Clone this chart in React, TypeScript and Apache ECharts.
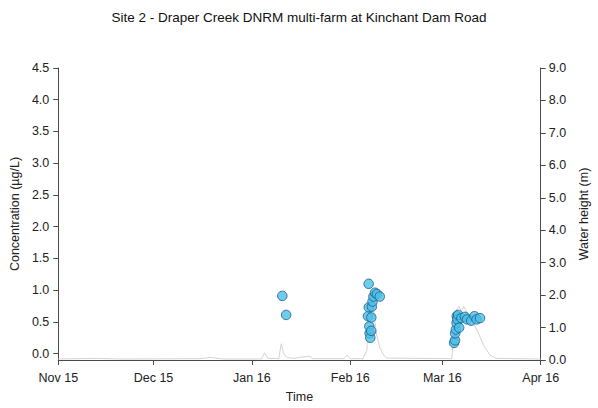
import React, { useEffect, useRef } from "react";
import * as echarts from "echarts";

const TITLE = "Site 2 - Draper Creek DNRM multi-farm at Kinchant Dam Road";

// Concentration samples (µg/L)
const sampleTimes = [
  "2016-01-10 14:00", "2016-01-11 19:00",
  "2016-02-06 14:00", "2016-02-06 19:00", "2016-02-06 20:00", "2016-02-07 00:00",
  "2016-02-07 02:00", "2016-02-07 07:00", "2016-02-07 14:00", "2016-02-07 15:00",
  "2016-02-07 19:00", "2016-02-08 00:00", "2016-02-08 07:00", "2016-02-08 19:00",
  "2016-02-09 09:00", "2016-02-10 07:00",
  "2016-03-04 17:00", "2016-03-05 00:00", "2016-03-05 01:00", "2016-03-05 07:00",
  "2016-03-05 12:00", "2016-03-05 13:00", "2016-03-05 17:00", "2016-03-06 00:00",
  "2016-03-06 07:00", "2016-03-07 00:00", "2016-03-08 02:00", "2016-03-08 19:00",
  "2016-03-10 02:00", "2016-03-11 03:00", "2016-03-11 19:00", "2016-03-12 21:00",
];
const concentration = [
  0.91, 0.61,
  0.59, 1.10, 0.73, 0.43,
  0.32, 0.25, 0.36, 0.57,
  0.74, 0.82, 0.90, 0.96,
  0.94, 0.90,
  0.17, 0.21, 0.32, 0.38,
  0.48, 0.59, 0.54, 0.61,
  0.41, 0.56, 0.58, 0.54,
  0.52, 0.59, 0.54, 0.56,
];

// Water height (m)
const waterTimes = [
  "2015-11-01 00:00", "2015-11-13 00:00", "2015-11-21 00:00", "2015-12-16 00:00",
  "2015-12-19 00:00", "2015-12-23 00:00", "2016-01-04 00:00", "2016-01-05 00:00",
  "2016-01-06 00:00", "2016-01-09 12:00", "2016-01-10 06:00", "2016-01-11 00:00",
  "2016-01-12 00:00", "2016-01-14 00:00", "2016-01-19 00:00", "2016-01-20 00:00",
  "2016-01-30 00:00", "2016-01-31 00:00", "2016-02-01 00:00", "2016-02-05 00:00",
  "2016-02-06 06:00", "2016-02-06 18:00", "2016-02-07 12:00", "2016-02-08 06:00",
  "2016-02-09 06:00", "2016-02-10 06:00", "2016-02-11 12:00", "2016-02-12 12:00",
  "2016-03-04 00:00", "2016-03-04 12:00", "2016-03-05 00:00", "2016-03-06 06:00",
  "2016-03-07 00:00", "2016-03-07 18:00", "2016-03-09 06:00", "2016-03-11 00:00",
  "2016-03-12 12:00", "2016-03-14 00:00", "2016-03-16 00:00", "2016-03-18 00:00",
  "2016-04-01 00:00",
];
const waterHeight = [
  0.03, 0.05, 0.03, 0.04,
  0.08, 0.03, 0.03, 0.22,
  0.05, 0.05, 0.50, 0.20,
  0.08, 0.05, 0.12, 0.04,
  0.04, 0.15, 0.04, 0.04,
  0.30, 1.60, 2.00, 1.60,
  0.80, 0.40, 0.15, 0.06,
  0.04, 0.80, 1.50, 1.65,
  1.50, 1.65, 1.40, 1.10,
  0.80, 0.45, 0.15, 0.05,
  0.03,
];

const monthTicks = ["2015-11-01", "2015-12-01", "2016-01-01", "2016-02-01", "2016-03-01", "2016-04-01"];
const monthLabels = ["Nov 15", "Dec 15", "Jan 16", "Feb 16", "Mar 16", "Apr 16"];
const concTicks = [0, 0.5, 1.0, 1.5, 2.0, 2.5, 3.0, 3.5, 4.0, 4.5];

const ts = (s: string) => {
  const [d, t] = s.split(" ");
  const [y, m, day] = d.split("-").map(Number);
  const [hh, mm] = (t || "00:00").split(":").map(Number);
  return Date.UTC(y, m - 1, day, hh, mm);
};

export default function App() {
  const ref = useRef<HTMLDivElement>(null);
  useEffect(() => {
    if (!ref.current) return;
    const chart = echarts.init(ref.current, undefined, { renderer: "svg" });
    const tickVals = monthTicks.map(ts);
    const axisColor = "#4a4a4a";
    const textColor = "#222";
    const font = "'Liberation Sans', Arial, sans-serif";
    const tickFont = 12.5;
    const nameFont = 12.5;
    chart.setOption({
      animation: false,
      backgroundColor: "#ffffff",
      textStyle: { fontFamily: font },
      title: {
        text: TITLE,
        left: "center",
        top: 5,
        textStyle: { fontSize: 13.5, fontWeight: "normal", color: "#111", fontFamily: font },
      },
      grid: { left: 56, right: 46, top: 68, bottom: 48 },
      xAxis: {
        type: "value",
        min: tickVals[0],
        max: tickVals[tickVals.length - 1],
        name: "Time",
        nameLocation: "middle",
        nameGap: 30,
        nameTextStyle: { fontSize: nameFont, color: textColor, fontFamily: font },
        axisLine: { show: true, onZero: false, lineStyle: { color: axisColor, width: 1 } },
        axisTick: { show: true, length: 5, inside: false, customValues: tickVals, lineStyle: { color: axisColor } },
        axisLabel: {
          customValues: tickVals,
          fontSize: tickFont,
          color: textColor,
          margin: 11,
          fontFamily: font,
          formatter: (v: number) => {
            const i = tickVals.indexOf(v);
            return i >= 0 ? monthLabels[i] : "";
          },
        },
        splitLine: { show: false },
      },
      yAxis: [
        {
          type: "value",
          min: -0.1,
          max: 4.5,
          position: "left",
          name: "Concentration (µg/L)",
          nameLocation: "middle",
          nameRotate: 90,
          nameGap: 36,
          nameTextStyle: { fontSize: nameFont, color: textColor, fontFamily: font },
          axisLine: { show: true, lineStyle: { color: axisColor, width: 1 } },
          axisTick: { show: true, length: 5, customValues: concTicks, lineStyle: { color: axisColor } },
          axisLabel: {
            customValues: concTicks,
            fontSize: tickFont,
            color: textColor,
            margin: 9,
            fontFamily: font,
            formatter: (v: number) => v.toFixed(1),
          },
          splitLine: { show: false },
        },
        {
          type: "value",
          min: 0,
          max: 9,
          interval: 1,
          position: "right",
          name: "Water height (m)",
          nameLocation: "middle",
          nameRotate: 90,
          nameGap: 30,
          nameTextStyle: { fontSize: nameFont, color: textColor, fontFamily: font },
          axisLine: { show: true, lineStyle: { color: axisColor, width: 1 } },
          axisTick: { show: true, length: 5, lineStyle: { color: axisColor } },
          axisLabel: {
            fontSize: tickFont,
            color: textColor,
            margin: 8,
            fontFamily: font,
            formatter: (v: number) => v.toFixed(1),
          },
          splitLine: { show: false },
        },
      ],
      series: [
        {
          type: "line",
          name: "Water height",
          yAxisIndex: 1,
          showSymbol: false,
          smooth: false,
          lineStyle: { color: "#d2d2d2", width: 1 },
          data: waterTimes.map((t, i) => [ts(t), waterHeight[i]]),
          z: 1,
        },
        {
          type: "scatter",
          name: "Concentration",
          yAxisIndex: 0,
          symbol: "circle",
          symbolSize: 9.5,
          itemStyle: { color: "#4cbfe9", borderColor: "#1d5a85", borderWidth: 1 },
          data: sampleTimes.map((t, i) => [ts(t), concentration[i]]),
          z: 3,
        },
      ],
    });
    return () => chart.dispose();
  }, []);
  return (
    <div
      ref={ref}
      style={{ position: "fixed", left: 0, top: 0, width: 598, height: 408, background: "#fff" }}
    />
  );
}
